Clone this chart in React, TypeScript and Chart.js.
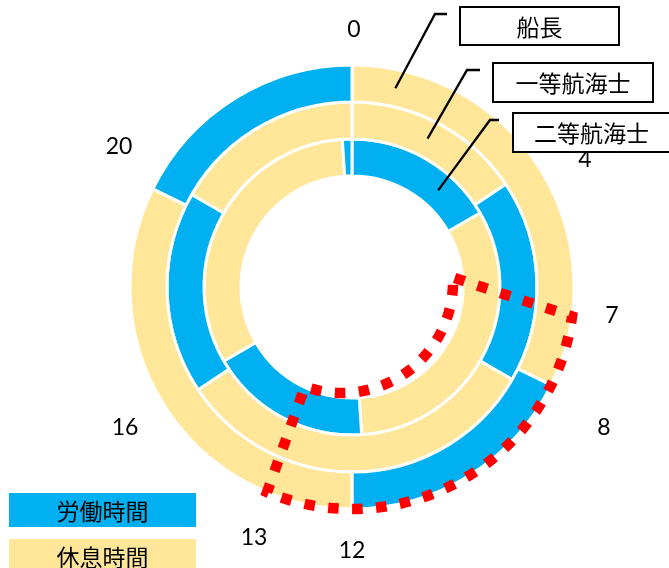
import React, { useEffect, useRef } from 'react';
import { Chart, registerables } from 'chart.js';

Chart.register(...registerables);

// ---- data ----
const ringNames = ['船長', '一等航海士', '二等航海士'];
// hours per segment, clockwise from 0:00
const captainHours = [7.75, 4.25, 7.75, 4.25];
const captainKinds = ['rest', 'work', 'rest', 'work'];
const chiefHours = [3.75, 4.25, 7.75, 4.25, 4];
const chiefKinds = ['rest', 'work', 'rest', 'work', 'rest'];
const secondHours = [4, 7.75, 4.25, 7.75, 0.25];
const secondKinds = ['work', 'rest', 'work', 'rest', 'work'];
const legendLabels = ['労働時間', '休息時間'];
const legendKinds = ['work', 'rest'];
const hourTickLabels = ['0', '4', '7', '8', '12', '13', '16', '20'];

// ---- styles / layout ----
const COLORS: Record<string, string> = { work: '#00B0F0', rest: '#FFE699' };
const tickOffsets = [
  [2, -257], [233, -127], [260, 29], [252, 141],
  [0, 264], [-98, 251], [-227, 141], [-233, -140],
];
const boxRects = [
  [460, 7, 159, 38],
  [493, 63, 160, 39],
  [513, 113, 157, 39],
];
const leaderAnglesDeg = [12.3, 27, 41.7];
const leaderElbows = [
  [[435, 14], [447, 14]],
  [[467, 70], [480, 70]],
  [[490, 120], [499, 120]],
];
const legendRects = [
  [9, 493, 187, 34],
  [9, 539, 187, 34],
];

const CJK = '"Noto Sans CJK JP", sans-serif';

const overlay = {
  id: 'overlay',
  afterDraw(chart: any) {
    const ctx: CanvasRenderingContext2D = chart.ctx;
    const arc0 = chart.getDatasetMeta(0).data[0];
    const cx = arc0.x;
    const cy = arc0.y;
    const R = arc0.outerRadius;
    const s = R / 222;
    const pt = (deg: number, r: number) => {
      const a = (deg * Math.PI) / 180;
      return [cx + r * s * Math.sin(a), cy - r * s * Math.cos(a)];
    };
    const ca = (deg: number) => ((deg - 90) * Math.PI) / 180;

    ctx.save();

    // red dotted highlight
    ctx.strokeStyle = '#FF0000';
    ctx.lineWidth = 10.5;
    ctx.setLineDash([10.5, 13.5]);
    ctx.beginPath();
    const p0 = pt(85, 103);
    ctx.moveTo(p0[0], p0[1]);
    ctx.arc(cx, cy, 222 * s, ca(97.6), ca(202.5), false);
    const p3 = pt(205.2, 111.6);
    ctx.lineTo(p3[0], p3[1]);
    ctx.arc(cx - 10 * s, cy - 5 * s, 111 * s, (109.2 * Math.PI) / 180, (-2 * Math.PI) / 180, true);
    ctx.closePath();
    ctx.stroke();
    ctx.setLineDash([]);

    // hour tick labels
    ctx.fillStyle = '#000';
    ctx.font = '23px Lato, "Liberation Sans", sans-serif';
    ctx.textAlign = 'center';
    ctx.textBaseline = 'middle';
    hourTickLabels.forEach((t, i) => {
      ctx.fillText(t, cx + tickOffsets[i][0], cy + tickOffsets[i][1]);
    });

    // leader lines + name boxes
    ctx.strokeStyle = '#000';
    ctx.lineWidth = 2.3;
    ringNames.forEach((name, i) => {
      const meta = chart.getDatasetMeta(i).data[0];
      const mid = (meta.innerRadius + meta.outerRadius) / 2 / s;
      const st = pt(leaderAnglesDeg[i], mid);
      ctx.beginPath();
      ctx.moveTo(st[0], st[1]);
      leaderElbows[i].forEach((p) => ctx.lineTo(p[0], p[1]));
      ctx.stroke();

      const [bx, by, bw, bh] = boxRects[i];
      ctx.fillStyle = '#fff';
      ctx.fillRect(bx, by, bw, bh);
      ctx.lineWidth = 2;
      ctx.strokeRect(bx, by, bw, bh);
      ctx.lineWidth = 2.3;
      ctx.fillStyle = '#000';
      ctx.font = '23px ' + CJK;
      ctx.fillText(name, bx + bw / 2, by + bh / 2 + 1);
    });

    // legend
    legendLabels.forEach((lab, i) => {
      const [lx, ly, lw, lh] = legendRects[i];
      ctx.fillStyle = COLORS[legendKinds[i]];
      ctx.fillRect(lx, ly, lw, lh);
      ctx.fillStyle = '#000';
      ctx.font = '23px ' + CJK;
      ctx.fillText(lab, lx + lw / 2, ly + lh / 2 + 1);
    });

    ctx.restore();
  },
};

export default function App() {
  const ref = useRef<HTMLCanvasElement>(null);
  useEffect(() => {
    if (!ref.current) return;
    const mk = (hours: number[], kinds: string[], label: string) => ({
      label,
      data: hours,
      backgroundColor: kinds.map((k) => COLORS[k]),
      borderColor: '#FFFFFF',
      borderWidth: 3,
    });
    const chart = new Chart(ref.current, {
      type: 'doughnut',
      data: {
        labels: ['1', '2', '3', '4', '5'],
        datasets: [
          mk(captainHours, captainKinds, ringNames[0]),
          mk(chiefHours, chiefKinds, ringNames[1]),
          mk(secondHours, secondKinds, ringNames[2]),
        ],
      },
      options: {
        responsive: false,
        animation: false,
        cutout: '50%',
        rotation: 0,
        circumference: 360,
        events: [],
        layout: { padding: { left: 128.5, right: 93.5, top: 63.5, bottom: 57.5 } },
        plugins: { legend: { display: false }, tooltip: { enabled: false } },
      },
      plugins: [overlay],
    } as any);
    return () => chart.destroy();
  }, []);
  return (
    <div style={{ position: 'fixed', left: 0, top: 0, width: 669, height: 568, background: '#fff' }}>
      <canvas ref={ref} width={669} height={568} style={{ display: 'block' }} />
    </div>
  );
}
